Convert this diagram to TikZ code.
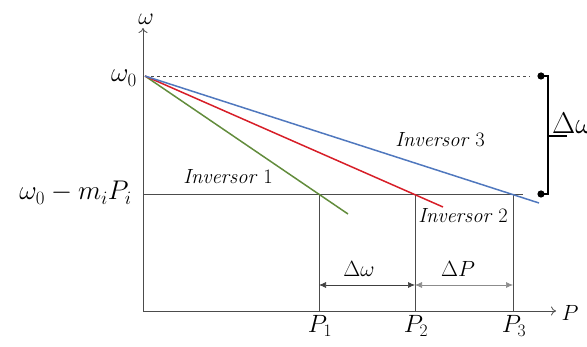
\RequirePackage{fix-cm}
\documentclass[tikz,border=0pt]{standalone}
\usetikzlibrary{arrows.meta}
\begin{document}
\begin{tikzpicture}[x=1pt,y=-1pt,
  ax/.style={draw=black!70,line width=0.8pt},
  thin/.style={draw=black!70,line width=0.7pt},
  dim/.style={draw=black!75,line width=0.7pt,{Latex[length=7pt,width=6pt]}-{Latex[length=7pt,width=6pt]}},
  big/.style={font=\fontsize{27}{30}\selectfont,inner sep=0pt,anchor=base east},
  plbl/.style={font=\fontsize{25}{28}\selectfont,inner sep=0pt,anchor=base},
  dlbl/.style={font=\fontsize{22}{24}\selectfont,inner sep=0pt,anchor=base},
  inv/.style={font=\fontsize{20.5}{23}\selectfont\itshape,inner sep=0pt,anchor=base},
  droop/.style={line width=1.5pt},
  brk/.style={draw=black,line width=1.6pt}]
\useasboundingbox (0,0) rectangle (587,347);
\definecolor{cgreen}{RGB}{98,140,60}
\definecolor{cred}{RGB}{215,30,40}
\definecolor{cblue}{RGB}{80,120,190}
% key points
\coordinate (O) at (143,311);
\coordinate (W0) at (145,76);
\coordinate (Yt) at (143,28);
\coordinate (Xt) at (556,311);
\coordinate (L) at (143,194);
\coordinate (R) at (523,194);
\coordinate (D0) at (530,76);
\coordinate (Q1) at (319,194);
\coordinate (Q2) at (415,194);
\coordinate (Q3) at (513,194);
\coordinate (B1) at (319,311);
\coordinate (B2) at (415,311);
\coordinate (B3) at (513,311);
\coordinate (A1) at (319,285);
\coordinate (A2) at (415,285);
\coordinate (A3) at (513,285);
\coordinate (Ge) at (348,214);
\coordinate (Re) at (443,207);
\coordinate (Be) at (539,203);
% axes
\draw[ax,-{To[length=5pt,width=9pt]}] (O) -- (Yt);
\draw[ax,-{To[length=5pt,width=9pt]}] (O) -- (Xt);
\node[dlbl,font=\fontsize{24}{26}\selectfont] (wlab) at (146,25) {$\omega$};
\node[dlbl] (plab) at (570,321) {$P$};
% reference lines
\draw[thin,dashed] (W0) -- (D0);
\draw[thin] (L) -- (R);
\draw[thin] (Q1) -- (B1);
\draw[thin] (Q2) -- (B2);
\draw[thin] (Q3) -- (B3);
% droop lines
\draw[droop,cgreen] (W0) -- (Ge);
\draw[droop,cred] (W0) -- (Re);
\draw[droop,cblue] (W0) -- (Be);
% labels
\node[big] (w0) at (137,82) {$\omega_0$};
\node[big] (wm) at (132,200) {$\omega_0 - m_i P_i$};
\node[plbl] (p1) at (320,333) {$P_1$};
\node[plbl] (p2) at (416,333) {$P_2$};
\node[plbl] (p3) at (514,333) {$P_3$};
\node[inv] (i1) at (228,184) {Inversor $1$};
\node[inv] (i3) at (440,147) {Inversor $3$};
\node[inv] (i2) at (463,223) {Inversor $2$};
% dimensions
\draw[dim] (A1) -- (A2);
\draw[dim,draw=black!45] (A2) -- (A3);
\node[dlbl] (dw) at (359,277) {$\Delta\omega$};
\node[dlbl] (dp) at (458,277) {$\Delta P$};
% bracket
\coordinate (K1) at (541,76);
\coordinate (K2) at (541,194);
\coordinate (Km) at (548,136);
\draw[brk] (K1) -- (548,76) -- (548,194) -- (K2);
\draw[brk] (Km) -- (567,136);
\fill (K1) circle (3.6pt);
\fill (K2) circle (3.6pt);
\node[inner sep=0pt,anchor=base west,font=\fontsize{30}{32}\selectfont] (dwb) at (552,134) {$\Delta\omega$};
\end{tikzpicture}
\end{document}
